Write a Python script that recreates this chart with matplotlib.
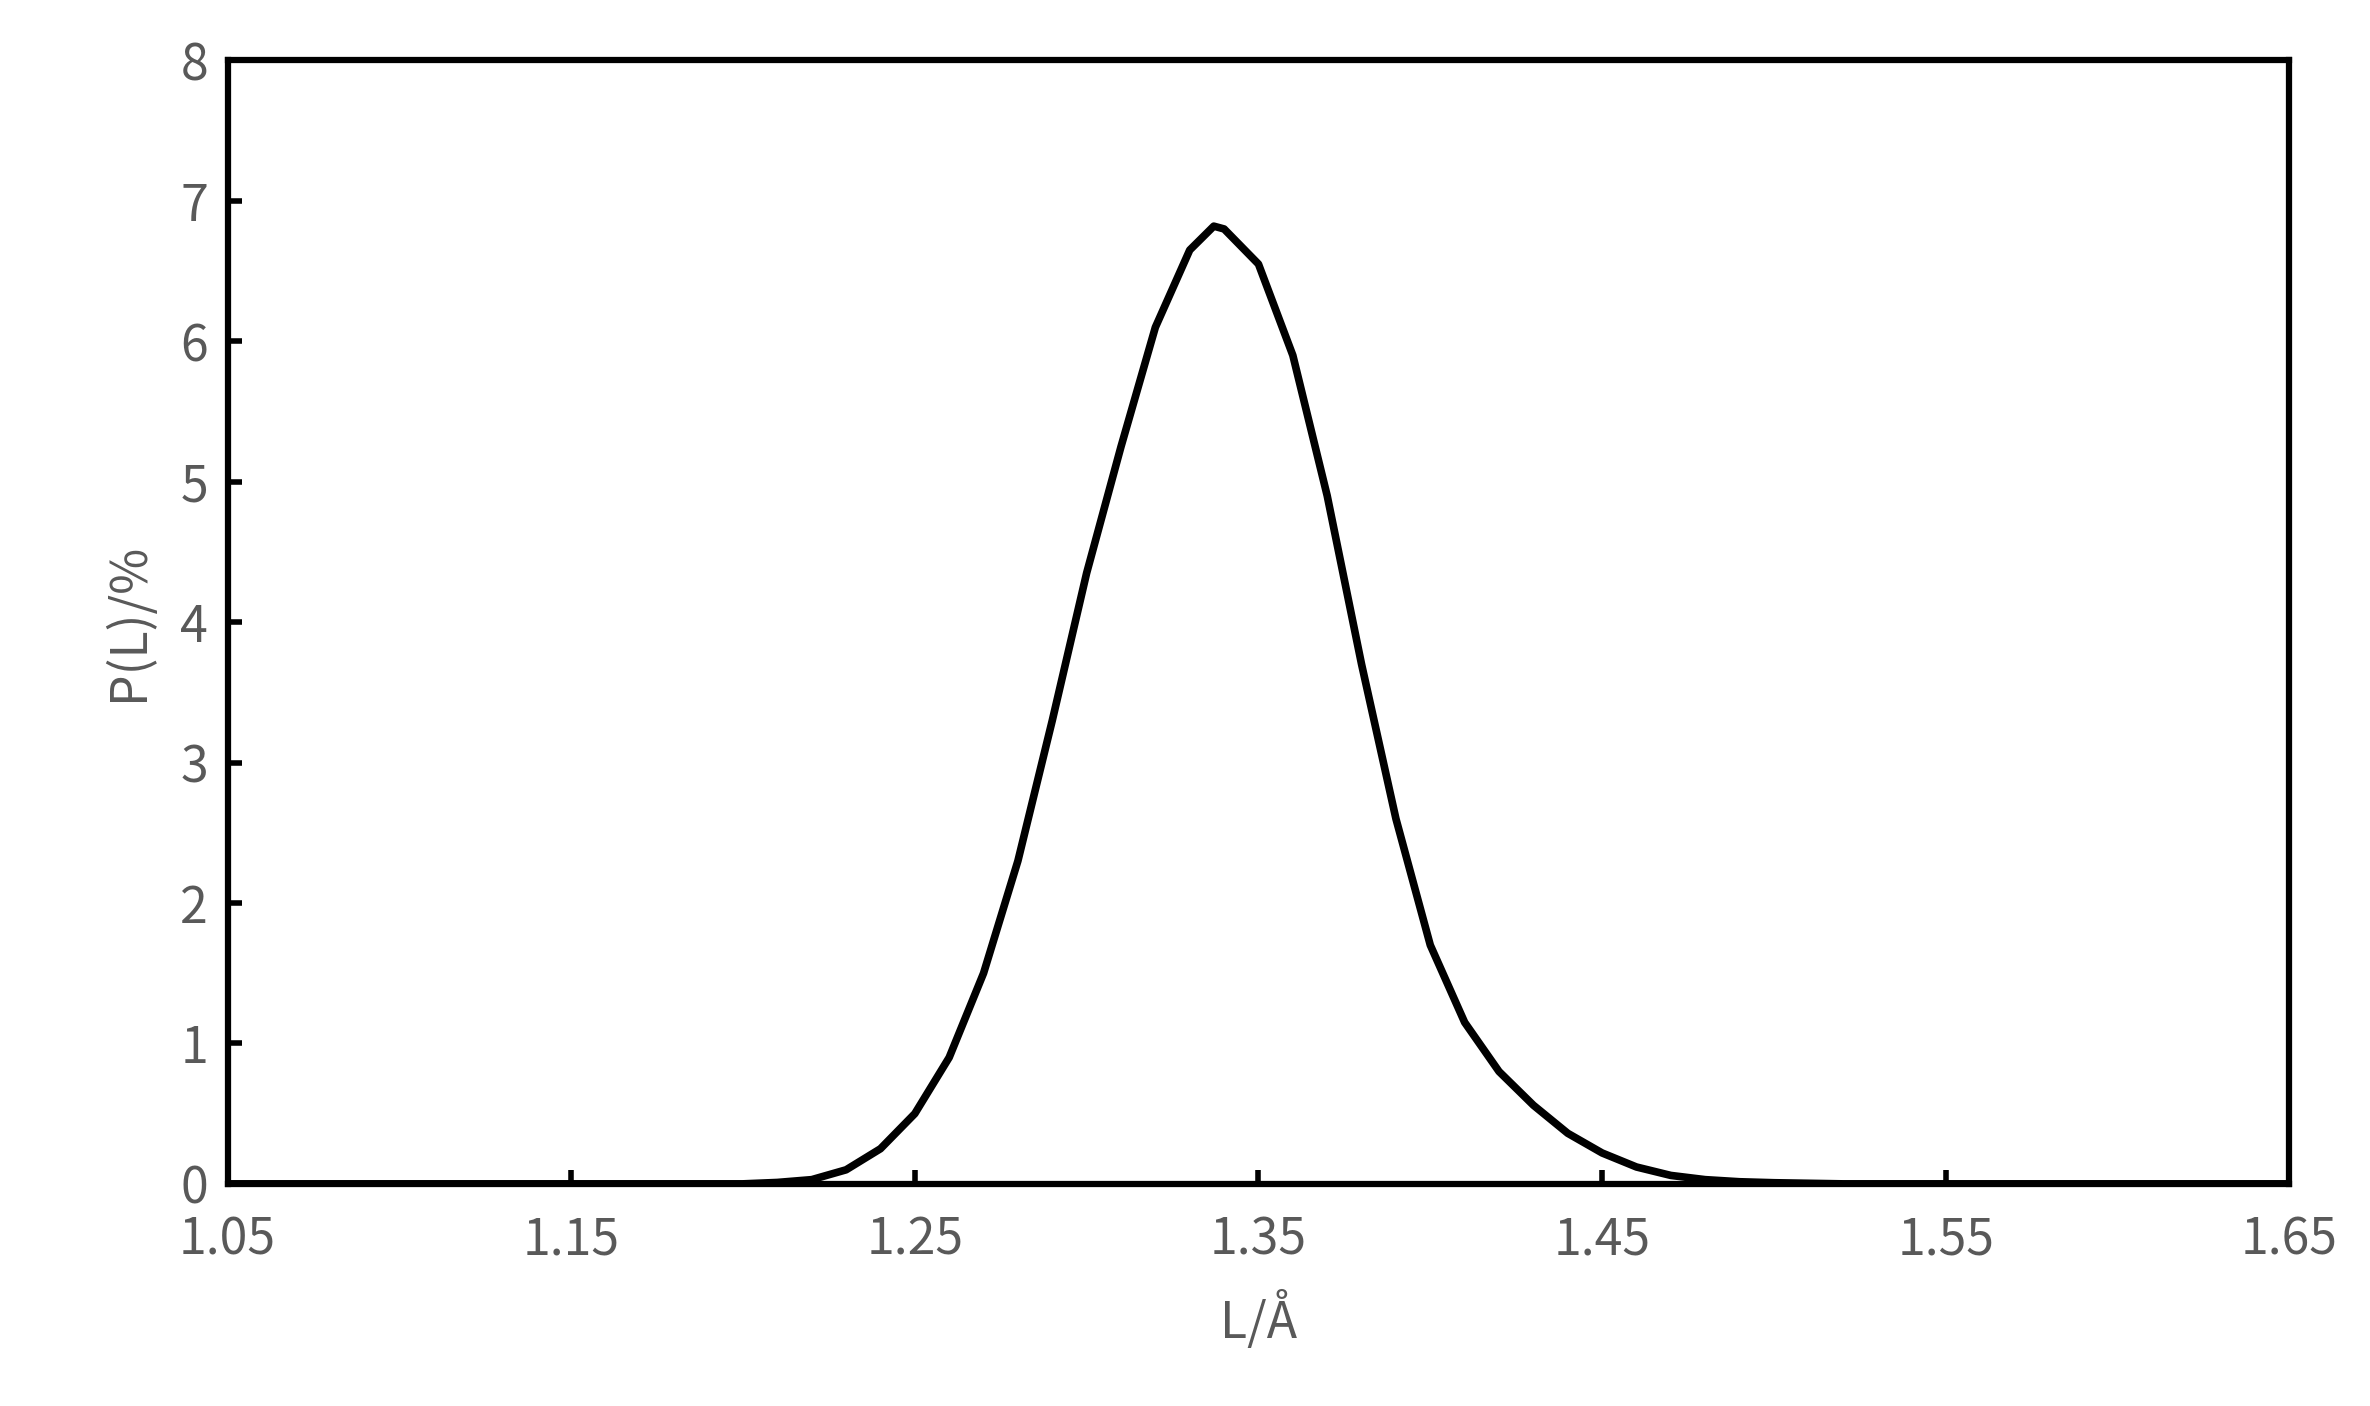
import matplotlib.pyplot as plt
import numpy as np

plt.rcParams['font.family'] = ['Noto Sans CJK SC', 'DejaVu Sans']

# distribution
L = [1.05, 1.20, 1.21, 1.22, 1.23, 1.24, 1.25, 1.26, 1.27, 1.28, 1.29, 1.30, 1.31,
     1.32, 1.33, 1.337, 1.34, 1.35, 1.36, 1.37, 1.38, 1.39, 1.40, 1.41, 1.42,
     1.43, 1.44, 1.45, 1.46, 1.47, 1.48, 1.49, 1.50, 1.52, 1.65]
P = [0, 0, 0.01, 0.03, 0.1, 0.25, 0.5, 0.9, 1.5, 2.3, 3.3, 4.35, 5.25,
     6.1, 6.65, 6.82, 6.8, 6.55, 5.9, 4.9, 3.7, 2.6, 1.7, 1.15, 0.8,
     0.56, 0.36, 0.22, 0.12, 0.06, 0.03, 0.015, 0.008, 0, 0]

xticks = [1.05, 1.15, 1.25, 1.35, 1.45, 1.55, 1.65]
yticks = [0, 1, 2, 3, 4, 5, 6, 7, 8]

fig = plt.figure(figsize=(23.7, 14.06), dpi=100)
ax = fig.add_axes([0.096, 0.158, 0.87, 0.799])
ax.plot(L, P, color='black', lw=5.5, solid_capstyle='round')
ax.set_xlim(1.05, 1.65)
ax.set_ylim(0, 8)
ax.set_xticks(xticks)
ax.set_xticklabels([f'{v:.2f}' for v in xticks])
ax.set_yticks(yticks)
for s in ax.spines.values():
    s.set_linewidth(4.5)
ax.tick_params(direction='in', length=10, width=4, labelsize=36,
               labelcolor='#595959', pad=14)
ax.tick_params(axis='x', pad=22)
ax.set_xlabel('L/Å', fontsize=36, color='#595959', labelpad=18)
ax.set_ylabel('P(L)/%', fontsize=36, color='#595959', labelpad=18)
fig.savefig('out.png')
